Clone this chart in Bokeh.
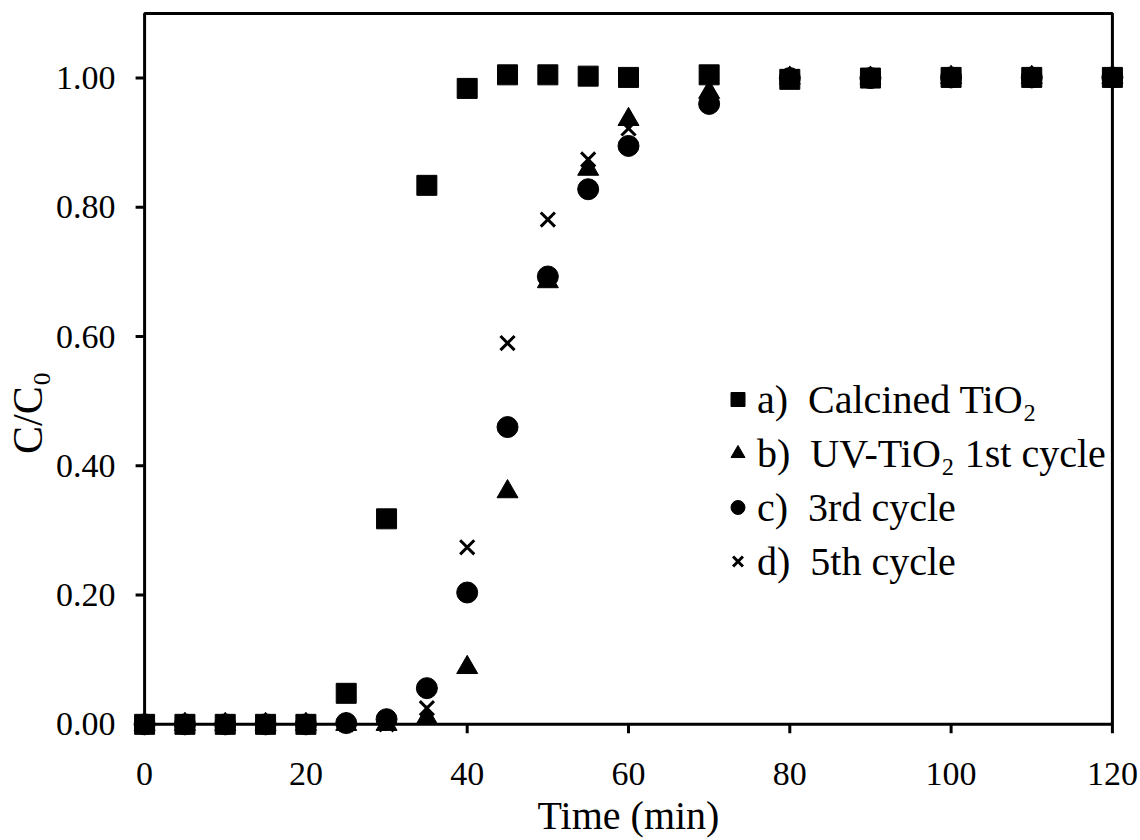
from bokeh.plotting import figure
from bokeh.models import (Range1d, FixedTicker, NumeralTickFormatter,
                          Legend, LegendItem)
from bokeh.embed import file_html
from bokeh.resources import INLINE

# Normalised concentration C/C0 versus irradiation time
time_min = [0, 5, 10, 15, 20, 25, 30, 35, 40, 45, 50, 55, 60, 70, 80, 90, 100, 110, 120]
calcined_tio2 = [0, 0, 0, 0, 0, 0.048, 0.318, 0.834, 0.984, 1.005, 1.005, 1.003, 1.001,
                 1.005, 0.998, 1.000, 1.001, 1.001, 1.001]
uv_1st_cycle = [0, 0, 0, 0, 0, 0, 0, 0.010, 0.088, 0.360, 0.685, 0.859, 0.936,
                0.978, 1.000, 1.000, 1.001, 1.001, 1.001]
uv_3rd_cycle = [0, 0, 0, 0, 0, 0.002, 0.008, 0.056, 0.204, 0.460, 0.693, 0.828, 0.895,
                0.960, 1.000, 1.000, 1.001, 1.001, 1.001]
uv_5th_cycle = [0, 0, 0, 0, 0, 0, 0, 0.025, 0.274, 0.590, 0.781, 0.874, 0.922,
                0.962, 1.000, 1.000, 1.001, 1.001, 1.001]

x_ticks = [0, 20, 40, 60, 80, 100, 120]
y_ticks = [0.0, 0.2, 0.4, 0.6, 0.8, 1.0]
x_max = 120
y_max = 1.1

series_labels = ["a)\u00a0\u00a0Calcined TiO\u2082",
                 "b)\u00a0\u00a0UV-TiO\u2082 1st cycle",
                 "c)\u00a0\u00a03rd cycle",
                 "d)\u00a0\u00a05th cycle"]

FONT = "Liberation Serif"

# frame geometry: the frame is a little larger than the data box so that
# markers sitting on the box edges are drawn whole
W, H = 1140, 840
B_LEFT, B_RIGHT, B_TOP, B_BOTTOM = 132, 16, 11, 100
x_lo, x_hi = -1.5, 121.5
y_lo, y_hi = -0.025, 1.103
TICK_PX = 9
x_per_px = (x_hi - x_lo) / (W - B_LEFT - B_RIGHT)
y_per_px = (y_hi - y_lo) / (H - B_TOP - B_BOTTOM)

p = figure(width=W, height=H,
           x_range=Range1d(x_lo, x_hi), y_range=Range1d(y_lo, y_hi),
           output_backend="svg", toolbar_location=None,
           min_border_left=B_LEFT, min_border_right=B_RIGHT,
           min_border_top=B_TOP, min_border_bottom=B_BOTTOM)
p.outline_line_color = None
p.grid.visible = False
p.background_fill_color = "white"
p.border_fill_color = "white"

# data box with its outward tick marks
p.quad(left=[0], right=[x_max], bottom=[0], top=[y_max],
       fill_color=None, line_color="black", line_width=3)
p.segment(x0=[0] * len(y_ticks), y0=y_ticks,
          x1=[-TICK_PX * x_per_px] * len(y_ticks), y1=y_ticks,
          line_color="black", line_width=3)
p.segment(x0=x_ticks, y0=[0] * len(x_ticks),
          x1=x_ticks, y1=[-TICK_PX * y_per_px] * len(x_ticks),
          line_color="black", line_width=3)

r_a = p.scatter(time_min, calcined_tio2, marker="square", size=20,
                fill_color="black", line_color="black")
r_b = p.scatter(time_min, uv_1st_cycle, marker="triangle", size=21,
                fill_color="black", line_color="black")
r_c = p.scatter(time_min, uv_3rd_cycle, marker="circle", size=21,
                fill_color="black", line_color="black")
r_d = p.scatter(time_min, uv_5th_cycle, marker="x", size=20,
                line_color="black", line_width=3)

for ax in (p.xaxis[0], p.yaxis[0]):
    ax.axis_line_color = None
    ax.major_tick_line_color = None
    ax.minor_tick_line_color = None
    ax.major_tick_out = 0
    ax.major_tick_in = 0
    ax.minor_tick_out = 0
    ax.minor_tick_in = 0
    ax.major_label_text_font = FONT
    ax.major_label_text_font_size = "34px"
    ax.major_label_text_color = "black"
    ax.axis_label_text_font = FONT
    ax.axis_label_text_font_style = "normal"
    ax.axis_label_text_color = "black"

p.xaxis[0].ticker = FixedTicker(ticks=x_ticks)
p.xaxis[0].major_label_standoff = 22
p.xaxis[0].axis_label = "Time (min)"
p.xaxis[0].axis_label_text_font_size = "40px"
p.xaxis[0].axis_label_standoff = 5

p.yaxis[0].ticker = FixedTicker(ticks=y_ticks)
p.yaxis[0].formatter = NumeralTickFormatter(format="0.00")
p.yaxis[0].major_label_standoff = 17
p.yaxis[0].axis_label = "C/C\u2080" + "\u00a0" * 7
p.yaxis[0].axis_label_text_font_size = "42px"
p.yaxis[0].axis_label_standoff = 2

legend = Legend(items=[LegendItem(label=series_labels[0], renderers=[r_a]),
                       LegendItem(label=series_labels[1], renderers=[r_b]),
                       LegendItem(label=series_labels[2], renderers=[r_c]),
                       LegendItem(label=series_labels[3], renderers=[r_d])],
                location=(588, 152), margin=0, padding=0, spacing=0,
                glyph_width=35, glyph_height=54, label_height=54,
                label_standoff=2, border_line_color=None,
                background_fill_alpha=0,
                label_text_font=FONT, label_text_font_size="40px",
                label_text_color="black")
p.add_layout(legend)

open("out.html", "w").write(file_html(p, INLINE))
